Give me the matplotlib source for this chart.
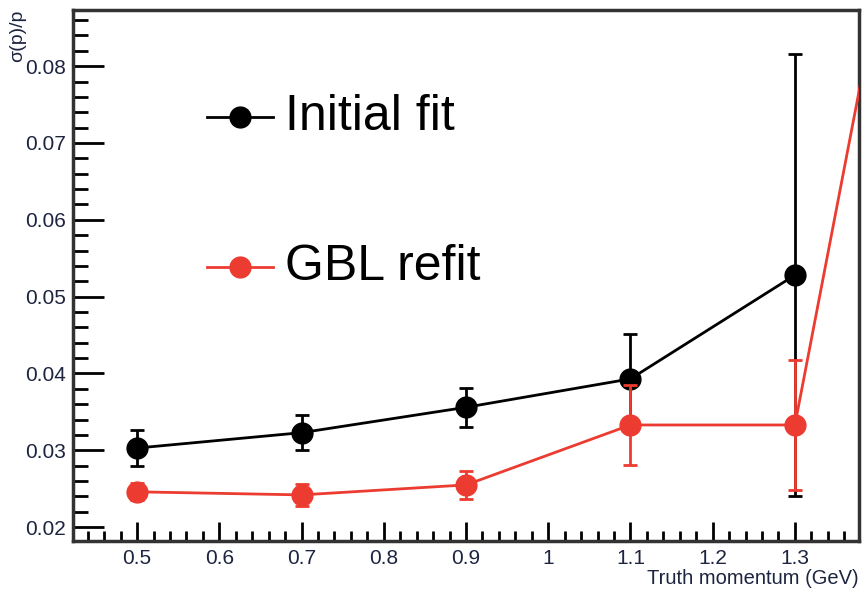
import matplotlib
matplotlib.use("Agg")
import matplotlib.pyplot as plt
from matplotlib.ticker import MultipleLocator

plt.rcParams['font.family'] = ['Liberation Sans', 'DejaVu Sans']

# momentum resolution vs truth momentum
momentum = [0.5, 0.7, 0.9, 1.1, 1.3]
initial_res = [0.0303, 0.0323, 0.0356, 0.0393, 0.0528]
initial_err = [0.0023, 0.0023, 0.0025, 0.0058, 0.0288]

gbl_momentum = [0.5, 0.7, 0.9, 1.1, 1.3, 1.5]
gbl_res = [0.0246, 0.0242, 0.0255, 0.0333, 0.0333, 0.1446]
gbl_err = [0.0011, 0.0014, 0.0018, 0.0052, 0.0084, 0.0100]

red = '#ec3b30'
tick_col = '#1c2440'

fig = plt.figure(figsize=(8.63, 5.91), dpi=100)
ax = fig.add_axes([0.0846, 0.0846, 0.9108, 0.8984])

ax.errorbar(momentum, initial_res, yerr=initial_err, color='black', marker='o',
            markersize=15, lw=2, elinewidth=2, capsize=5, capthick=2, zorder=3)
ax.errorbar(gbl_momentum, gbl_res, yerr=gbl_err, color=red, marker='o',
            markersize=15, lw=2, elinewidth=2, capsize=5, capthick=2, zorder=4)

ax.set_xlim(0.422, 1.378)
ax.set_ylim(0.0182, 0.0873)

ax.xaxis.set_major_locator(MultipleLocator(0.1))
ax.xaxis.set_minor_locator(MultipleLocator(0.02))
ax.yaxis.set_major_locator(MultipleLocator(0.01))
ax.yaxis.set_minor_locator(MultipleLocator(0.002))
ax.xaxis.set_major_formatter(lambda v, p: f"{v:g}")
ax.yaxis.set_major_formatter(lambda v, p: f"{v:g}")

ax.tick_params(axis='x', which='major', direction='in', length=14, width=2,
               labelsize=15, labelcolor=tick_col, pad=6)
ax.tick_params(axis='x', which='minor', direction='in', length=7, width=2)
ax.tick_params(axis='y', which='major', direction='in', length=22, width=2,
               labelsize=15, labelcolor=tick_col, pad=5)
ax.tick_params(axis='y', which='minor', direction='in', length=11, width=2)

for s in ax.spines.values():
    s.set_linewidth(2.5)
    s.set_color('#333333')

ax.set_xlabel('Truth momentum (GeV)', fontsize=14.5, color=tick_col)
ax.xaxis.set_label_coords(1.0, -0.053)
ax.xaxis.label.set_horizontalalignment('right')
ax.set_ylabel('σ(p)/p', fontsize=14, color=tick_col)
ax.yaxis.set_label_coords(-0.06, 1.0)
ax.yaxis.label.set_horizontalalignment('right')

# hand-placed legend entries
leg_items = [('Initial fit', 'black', 0.2015), ('GBL refit', red, 0.484)]
for text, col, yf in leg_items:
    y = 1 - yf
    ax.plot([0.17, 0.255], [y, y], color=col, lw=2, transform=ax.transAxes,
            clip_on=False)
    ax.plot([0.2125], [y], 'o', color=col, markersize=15, transform=ax.transAxes)
    ax.text(0.27, y, text, fontsize=36, va='center', ha='left',
            transform=ax.transAxes)

fig.savefig('out.png', dpi=100)
